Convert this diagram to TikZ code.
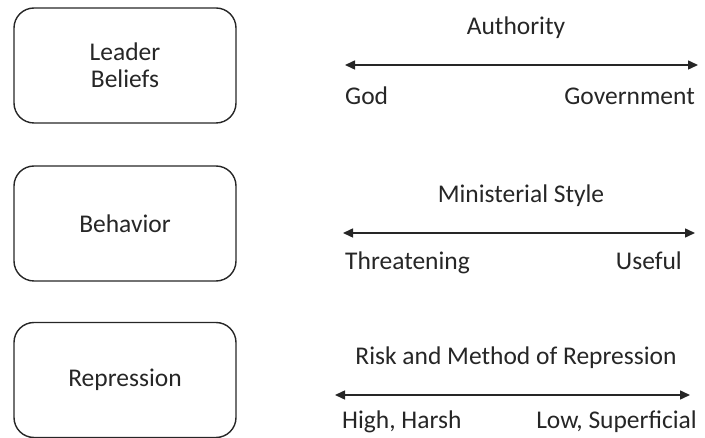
\documentclass[tikz,border=0pt]{standalone}
\usepackage{fontspec}
\setmainfont{Carlito}
\usepackage{xcolor}
\usetikzlibrary{arrows.meta, positioning}
\definecolor{grayA}{HTML}{262626}
\tikzset{
  factor/.style={
    draw=grayA, rounded corners=20pt, line width=1.4pt,
    minimum width=222pt, minimum height=115pt, align=center,
    text=grayA, font=\fontsize{25.5}{27}\selectfont
  },
  label/.style={
    inner sep=0pt, text=grayA, font=\fontsize{25.5}{27}\selectfont
  },
  scalearrow/.style={{Triangle[length=10pt,width=9pt]}-{Triangle[length=10pt,width=9pt]},
    line width=1.5pt, draw=grayA}
}
\begin{document}
\begin{tikzpicture}[x=1pt, y=-1pt]
  \useasboundingbox (0,0) rectangle (705,438);

  % factor boxes
  \node[factor] (beliefs) at (125,65.5) {Leader\\Beliefs};
  \node[factor] (behavior) at (125,223.5) {Behavior};
  \node[factor] (repress) at (125,380) {Repression};

  % authority scale
  \coordinate (authL) at (345,65);
  \coordinate (authR) at (698,65);
  \node[label, anchor=base] (auth) at (516,35) {Authority};
  \node[label, anchor=base west] (god) at (345,105) {God};
  \node[label, anchor=base east] (govt) at (695,105) {Government};
  \draw[scalearrow] (authL) -- (authR);

  % ministerial style scale
  \coordinate (minL) at (343,233);
  \coordinate (minR) at (695,233);
  \node[label, anchor=base] (minstyle) at (521,203) {Ministerial Style};
  \node[label, anchor=base west] (threat) at (345,270) {Threatening};
  \node[label, anchor=base east] (useful) at (682,270) {Useful};
  \draw[scalearrow] (minL) -- (minR);

  % repression scale
  \coordinate (repL) at (335,395);
  \coordinate (repR) at (690,395);
  \node[label, anchor=base] (risk) at (516,365) {Risk and Method of Repression};
  \node[label, anchor=base west] (high) at (342,429) {High, Harsh};
  \node[label, anchor=base east] (low) at (697,429) {Low, Superficial};
  \draw[scalearrow] (repL) -- (repR);
\end{tikzpicture}
\end{document}
